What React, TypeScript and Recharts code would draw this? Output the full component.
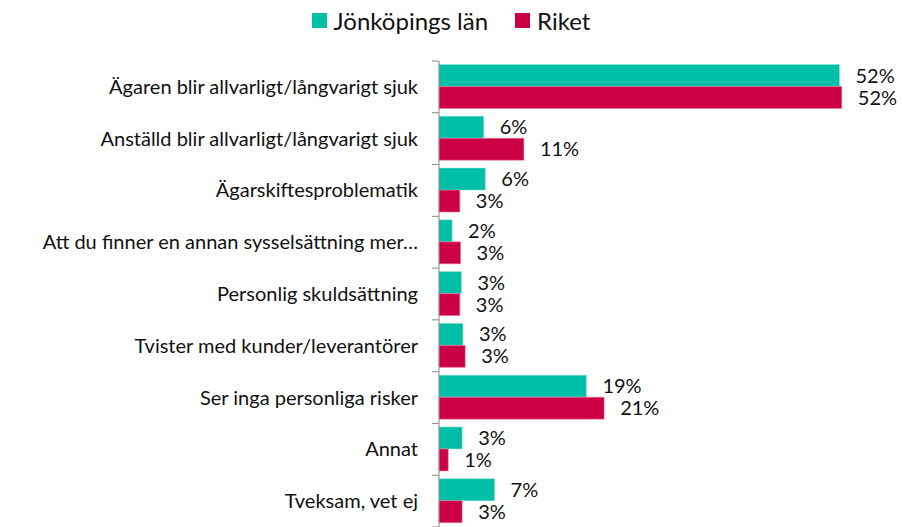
import { BarChart, Bar, XAxis, YAxis, Legend, LabelList } from 'recharts';

const categories = [
  'Ägaren blir allvarligt/långvarigt sjuk',
  'Anställd blir allvarligt/långvarigt sjuk',
  'Ägarskiftesproblematik',
  'Att du finner en annan sysselsättning mer…',
  'Personlig skuldsättning',
  'Tvister med kunder/leverantörer',
  'Ser inga personliga risker',
  'Annat',
  'Tveksam, vet ej',
];
const jonkoping = [51.9, 5.8, 6.0, 1.7, 2.9, 3.1, 19.1, 3.0, 7.2];
const riket = [52.2, 11.0, 2.7, 2.8, 2.7, 3.4, 21.4, 1.2, 3.0];

const data = categories.map((name, i) => ({ name, jonkoping: jonkoping[i], riket: riket[i] }));

const W = 902;
const H = 527;
const TOP = 61;
const BOTTOM = 0;
const BAND = (H - TOP - BOTTOM) / categories.length;
const FONT = 'Lato, "Open Sans", sans-serif';
const TEAL = '#00BFA8';
const RED = '#CC0044';

// eslint-disable-next-line @typescript-eslint/no-explicit-any
const CategoryTick = ({ x, y, payload, index }: any) => {
  const axisX = x + 21;
  return (
    <g>
      <text x={x} y={y} dy={7} textAnchor="end" fontSize={20} fill="#111" fontFamily={FONT}>
        {payload.value}
      </text>
      <line x1={axisX - 7} x2={axisX} y1={y - BAND / 2} y2={y - BAND / 2} stroke="#888" />
      {index === categories.length - 1 && (
        <line x1={axisX - 7} x2={axisX} y1={y + BAND / 2} y2={y + BAND / 2} stroke="#888" />
      )}
    </g>
  );
};

const LegendContent = () => (
  <div
    style={{
      height: 40,
      display: 'flex',
      justifyContent: 'center',
      alignItems: 'center',
      fontFamily: FONT,
      fontSize: 24,
      color: '#111',
    }}
  >
    {[
      { label: 'Jönköpings län', color: TEAL },
      { label: 'Riket', color: RED },
    ].map((item, i) => (
      <span key={item.label} style={{ display: 'flex', alignItems: 'center', marginLeft: i ? 27 : 0 }}>
        <span style={{ width: 15, height: 15, background: item.color, marginRight: 7 }} />
        {item.label}
      </span>
    ))}
  </div>
);

const pct = (v: number) => `${Math.round(v)}%`;

export default function App() {
  return (
    <div style={{ position: 'absolute', left: 0, top: 0 }}>
      <BarChart
        width={W}
        height={H}
        data={data}
        layout="vertical"
        margin={{ top: TOP - 40, right: 0, bottom: BOTTOM, left: 0 }}
        barCategoryGap={3.5}
        barGap={0}
      >
        <Legend verticalAlign="top" align="center" content={LegendContent} wrapperStyle={{ top: 0 }} />
        <XAxis type="number" domain={[0, 60]} hide />
        <YAxis
          type="category"
          dataKey="name"
          width={439}
          tickSize={0}
          tickMargin={21}
          tickLine={false}
          axisLine={{ stroke: '#888' }}
          tick={CategoryTick}
          interval={0}
        />
        <Bar dataKey="jonkoping" name="Jönköpings län" fill={TEAL} stroke="#8de0d0" strokeWidth={0.5} isAnimationActive={false}>
          <LabelList
            dataKey="jonkoping"
            position="right"
            offset={16}
            formatter={pct}
            style={{ fontSize: 20, fill: '#111', fontFamily: FONT }}
          />
        </Bar>
        <Bar dataKey="riket" name="Riket" fill={RED} stroke="#e38aa3" strokeWidth={0.5} isAnimationActive={false}>
          <LabelList
            dataKey="riket"
            position="right"
            offset={16}
            formatter={pct}
            style={{ fontSize: 20, fill: '#111', fontFamily: FONT }}
          />
        </Bar>
      </BarChart>
    </div>
  );
}
